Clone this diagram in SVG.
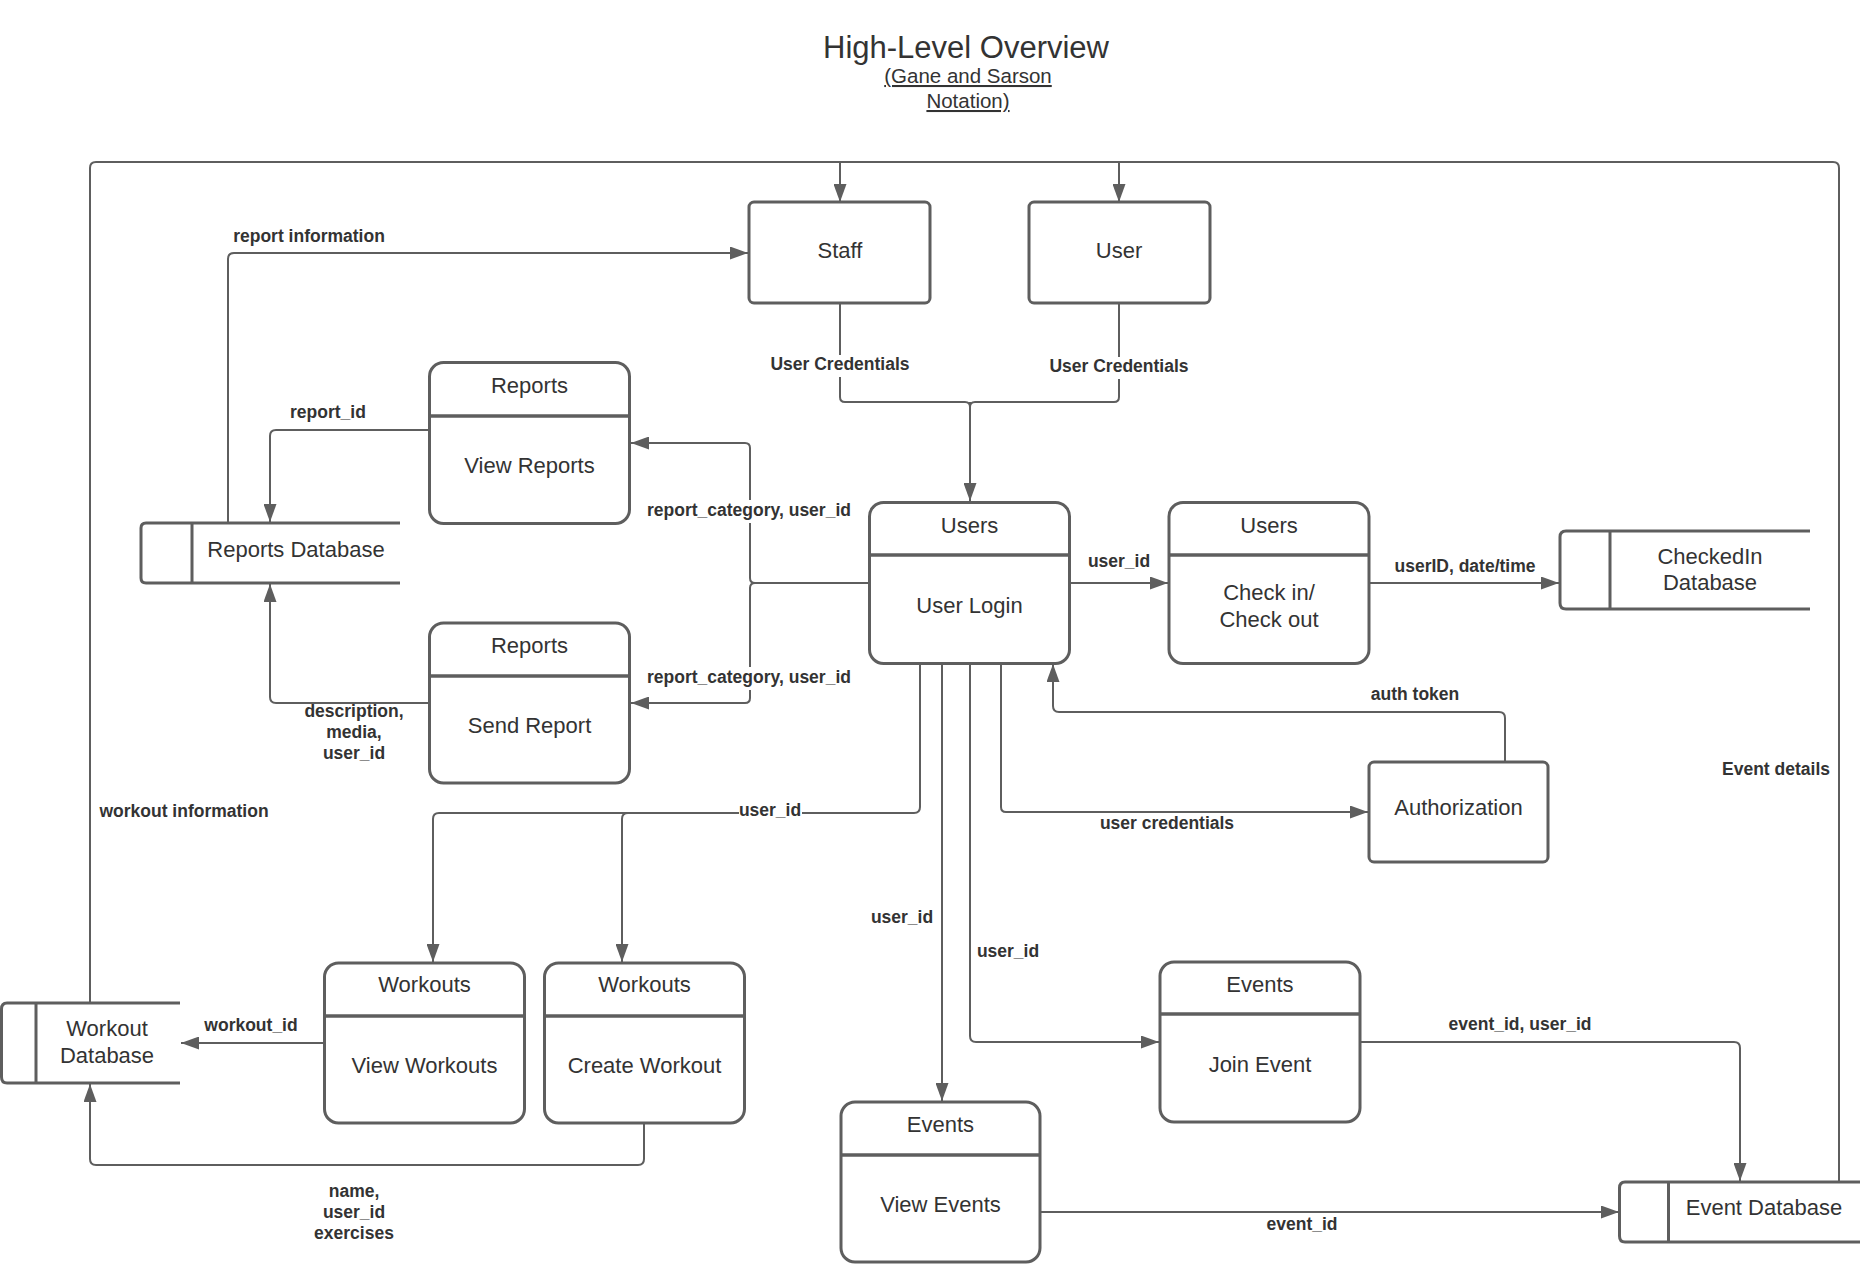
<svg xmlns="http://www.w3.org/2000/svg" width="1870" height="1282" viewBox="0 0 1870 1282">
<defs>
<style>
.box{fill:#fff;stroke:#5e5e5e;stroke-width:3}
.div{stroke:#5e5e5e;stroke-width:3.5;fill:none}
.db{fill:none;stroke:#5e5e5e;stroke-width:3;stroke-linejoin:round}
.ln{fill:none;stroke:#5e5e5e;stroke-width:2;stroke-linejoin:round}
.t{font-family:"Liberation Sans",Arial,sans-serif;font-size:22px;fill:#333;text-anchor:middle}
.lb{font-family:"Liberation Sans",Arial,sans-serif;font-size:17.5px;font-weight:bold;fill:#333;text-anchor:middle}
.bg{fill:#fff}
</style>
<marker id="arr" markerUnits="userSpaceOnUse" markerWidth="18" markerHeight="13" refX="18" refY="6.5" orient="auto">
<path d="M0,0 L18,6.5 L0,13 Z" fill="#5e5e5e"/>
</marker>
</defs>
<rect width="1870" height="1282" fill="#fff"/>

<g id="title">
<text x="966" y="58" font-family="Liberation Sans, Arial, sans-serif" font-size="31" fill="#333" text-anchor="middle">High-Level Overview</text>
<text x="968" y="83" font-family="Liberation Sans, Arial, sans-serif" font-size="20.5" fill="#333" text-anchor="middle" text-decoration="underline">(Gane and Sarson</text>
<text x="968" y="108" font-family="Liberation Sans, Arial, sans-serif" font-size="20.5" fill="#333" text-anchor="middle" text-decoration="underline">Notation)</text>
</g>

<g id="connectors">
<path class="ln" d="M90,1003 V168 Q90,162 96,162 H1833 Q1839,162 1839,168 V1182"/>
<path class="ln" d="M840,162 V202" marker-end="url(#arr)"/>
<path class="ln" d="M1119,162 V202" marker-end="url(#arr)"/>
<path class="ln" d="M228,523 V259 Q228,253 234,253 H748" marker-end="url(#arr)"/>
<path class="ln" d="M840,303 V397 Q840,402 845,402 H965 Q970,402 970,407"/>
<path class="ln" d="M1119,303 V397 Q1119,402 1114,402 H975 Q970,402 970,407"/>
<path class="ln" d="M970,402 V501" marker-end="url(#arr)"/>
<path class="ln" d="M429,430 H276 Q270,430 270,436 V522" marker-end="url(#arr)"/>
<path class="ln" d="M869,583 H755 Q750,583 750,578 V448 Q750,443 745,443 H631" marker-end="url(#arr)"/>
<path class="ln" d="M755,583 Q750,583 750,588 V698 Q750,703 745,703 H631" marker-end="url(#arr)"/>
<path class="ln" d="M429,703 H276 Q270,703 270,697 V584" marker-end="url(#arr)"/>
<path class="ln" d="M1069,583 H1168" marker-end="url(#arr)"/>
<path class="ln" d="M1369,583 H1559" marker-end="url(#arr)"/>
<path class="ln" d="M1505,762 V718 Q1505,712 1499,712 H1059 Q1053,712 1053,706 V664" marker-end="url(#arr)"/>
<path class="ln" d="M1001,663 V807 Q1001,812 1006,812 H1368" marker-end="url(#arr)"/>
<path class="ln" d="M920,663 V807 Q920,813 914,813 H439 Q433,813 433,819 V962" marker-end="url(#arr)"/>
<path class="ln" d="M628,813 Q622,813 622,819 V962" marker-end="url(#arr)"/>
<path class="ln" d="M942,663 V1101" marker-end="url(#arr)"/>
<path class="ln" d="M970,663 V1036 Q970,1042 976,1042 H1159" marker-end="url(#arr)"/>
<path class="ln" d="M324,1043 H181" marker-end="url(#arr)"/>
<path class="ln" d="M644,1123 V1159 Q644,1165 638,1165 H96 Q90,1165 90,1159 V1084" marker-end="url(#arr)"/>
<path class="ln" d="M1360,1042 H1734 Q1740,1042 1740,1048 V1181" marker-end="url(#arr)"/>
<path class="ln" d="M1040,1212 H1619" marker-end="url(#arr)"/>
</g>

<g id="labels">
<text class="lb" x="309" y="242">report information</text>
<rect class="bg" x="768" y="355" width="144" height="22"/>
<text class="lb" x="840" y="370">User Credentials</text>
<rect class="bg" x="1047" y="357" width="144" height="22"/>
<text class="lb" x="1119" y="372">User Credentials</text>
<text class="lb" x="328" y="418">report_id</text>
<rect class="bg" x="645" y="500" width="210" height="23"/>
<text class="lb" x="749" y="516">report_category, user_id</text>
<rect class="bg" x="645" y="667" width="210" height="23"/>
<text class="lb" x="749" y="683">report_category, user_id</text>
<text class="lb" x="354" y="717">description,</text>
<text class="lb" x="354" y="738">media,</text>
<text class="lb" x="354" y="759">user_id</text>
<text class="lb" x="1119" y="567">user_id</text>
<text class="lb" x="1465" y="572">userID, date/time</text>
<text class="lb" x="1415" y="700">auth token</text>
<text class="lb" x="1776" y="775">Event details</text>
<text class="lb" x="1167" y="829">user credentials</text>
<text class="lb" x="184" y="817">workout information</text>
<rect class="bg" x="739" y="802" width="63" height="20"/>
<text class="lb" x="770" y="816">user_id</text>
<text class="lb" x="902" y="923">user_id</text>
<text class="lb" x="1008" y="957">user_id</text>
<text class="lb" x="251" y="1031">workout_id</text>
<text class="lb" x="1520" y="1030">event_id, user_id</text>
<text class="lb" x="354" y="1197">name,</text>
<text class="lb" x="354" y="1218">user_id</text>
<text class="lb" x="354" y="1239">exercises</text>
<text class="lb" x="1302" y="1230">event_id</text>
</g>

<g id="staff">
<rect class="box" x="749" y="202" width="181" height="101" rx="5"/>
<text class="t" x="840" y="258">Staff</text>
</g>
<g id="user">
<rect class="box" x="1029" y="202" width="181" height="101" rx="5"/>
<text class="t" x="1119" y="258">User</text>
</g>

<g id="view-reports">
<rect class="box" x="429.5" y="362.5" width="200" height="161" rx="14"/>
<path class="div" d="M429.5,416 H629.5"/>
<text class="t" x="529.5" y="393">Reports</text>
<text class="t" x="529.5" y="473">View Reports</text>
</g>
<g id="send-report">
<rect class="box" x="429.5" y="623" width="200" height="160" rx="14"/>
<path class="div" d="M429.5,676 H629.5"/>
<text class="t" x="529.5" y="653">Reports</text>
<text class="t" x="529.5" y="733">Send Report</text>
</g>
<g id="user-login">
<rect class="box" x="869.5" y="502.5" width="200" height="161" rx="14"/>
<path class="div" d="M869.5,555 H1069.5"/>
<text class="t" x="969.5" y="533">Users</text>
<text class="t" x="969.5" y="613">User Login</text>
</g>
<g id="check-in">
<rect class="box" x="1169" y="502.5" width="200" height="161" rx="14"/>
<path class="div" d="M1169,555 H1369"/>
<text class="t" x="1269" y="533">Users</text>
<text class="t" x="1269" y="600">Check in/</text>
<text class="t" x="1269" y="627">Check out</text>
</g>
<g id="authorization">
<rect class="box" x="1369" y="762" width="179" height="100" rx="5"/>
<text class="t" x="1458.5" y="815">Authorization</text>
</g>
<g id="view-workouts">
<rect class="box" x="324.5" y="963" width="200" height="160" rx="14"/>
<path class="div" d="M324.5,1016 H524.5"/>
<text class="t" x="424.5" y="992">Workouts</text>
<text class="t" x="424.5" y="1073">View Workouts</text>
</g>
<g id="create-workout">
<rect class="box" x="544.5" y="963" width="200" height="160" rx="14"/>
<path class="div" d="M544.5,1016 H744.5"/>
<text class="t" x="644.5" y="992">Workouts</text>
<text class="t" x="644.5" y="1073">Create Workout</text>
</g>
<g id="join-event">
<rect class="box" x="1160" y="962" width="200" height="160" rx="14"/>
<path class="div" d="M1160,1014 H1360"/>
<text class="t" x="1260" y="992">Events</text>
<text class="t" x="1260" y="1072">Join Event</text>
</g>
<g id="view-events">
<rect class="box" x="841" y="1102" width="199" height="160" rx="14"/>
<path class="div" d="M841,1155 H1040"/>
<text class="t" x="940.5" y="1132">Events</text>
<text class="t" x="940.5" y="1212">View Events</text>
</g>

<g id="reports-database">
<path class="db" d="M400,523 H146 Q141,523 141,528 V578 Q141,583 146,583 H400 M192,523 V583"/>
<text class="t" x="296" y="557">Reports Database</text>
</g>
<g id="checkedin-database">
<path class="db" d="M1810,531 H1566 Q1560,531 1560,537 V603 Q1560,609 1566,609 H1810 M1610,531 V609"/>
<text class="t" x="1710" y="564">CheckedIn</text>
<text class="t" x="1710" y="590">Database</text>
</g>
<g id="workout-database">
<path class="db" d="M180,1003 H7 Q1.5,1003 1.5,1009 V1077 Q1.5,1083 7,1083 H180 M36,1003 V1083"/>
<text class="t" x="107" y="1036">Workout</text>
<text class="t" x="107" y="1063">Database</text>
</g>
<g id="event-database">
<path class="db" d="M1860,1182 H1625 Q1619.5,1182 1619.5,1188 V1236 Q1619.5,1242 1625,1242 H1860 M1668.5,1182 V1242"/>
<text class="t" x="1764" y="1215">Event Database</text>
</g>
</svg>
